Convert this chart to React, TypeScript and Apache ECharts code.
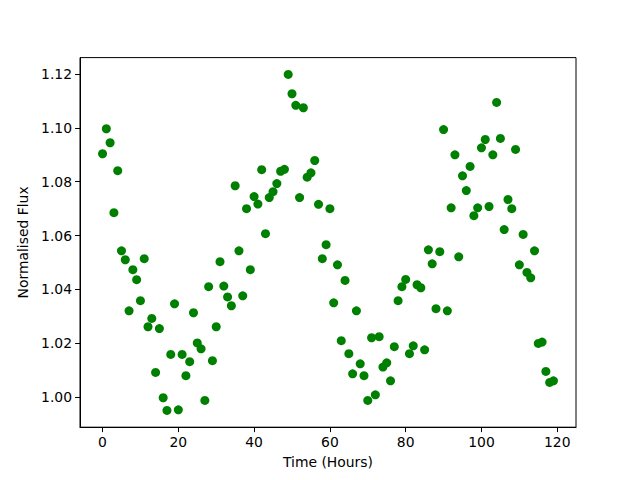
import React, { useEffect, useRef } from "react";
import * as echarts from "echarts";

const hours: number[] = Array.from({ length: 120 }, (_, i) => i);
const flux: number[] = [
  1.0904, 1.0997, 1.0945, 1.0685, 1.0841, 1.0543, 1.0510, 1.0320, 1.0473, 1.0436,
  1.0358, 1.0514, 1.0261, 1.0292, 1.0091, 1.0254, 0.9997, 0.9950, 1.0158, 1.0346,
  0.9952, 1.0158, 1.0079, 1.0131, 1.0313, 1.0201, 1.0179, 0.9987, 1.0410, 1.0135,
  1.0261, 1.0503, 1.0412, 1.0372, 1.0339, 1.0785, 1.0543, 1.0376, 1.0700, 1.0473,
  1.0745, 1.0717, 1.0845, 1.0607, 1.0741, 1.0763, 1.0793, 1.0839, 1.0846, 1.1199,
  1.1127, 1.1084, 1.0741, 1.1075, 1.0817, 1.0833, 1.0879, 1.0716, 1.0514, 1.0566,
  1.0700, 1.0350, 1.0491, 1.0209, 1.0433, 1.0161, 1.0086, 1.0320, 1.0123, 1.0079,
  0.9987, 1.0220, 1.0008, 1.0224, 1.0111, 1.0127, 1.0060, 1.0187, 1.0358, 1.0410,
  1.0437, 1.0161, 1.0190, 1.0417, 1.0406, 1.0175, 1.0547, 1.0495, 1.0328, 1.0540,
  1.0994, 1.0320, 1.0703, 1.0900, 1.0521, 1.0822, 1.0767, 1.0857, 1.0674, 1.0703,
  1.0926, 1.0957, 1.0708, 1.0900, 1.1095, 1.0961, 1.0622, 1.0734, 1.0700, 1.0920,
  1.0491, 1.0604, 1.0463, 1.0443, 1.0543, 1.0199, 1.0204, 1.0095, 1.0054, 1.0060,
];
const xTicks: number[] = [0, 20, 40, 60, 80, 100, 120];
const yTicks: number[] = [1.0, 1.02, 1.04, 1.06, 1.08, 1.1, 1.12];

export default function App() {
  const ref = useRef<HTMLDivElement>(null);
  useEffect(() => {
    document.body.style.margin = "0";
    if (!ref.current) return;
    const chart = echarts.init(ref.current, null, { renderer: "svg" });
    const font = "DejaVu Sans";
    const xMin = -5.95, xMax = 124.95;
    const yLo = Math.min(...flux), yHi = Math.max(...flux);
    const pad = (yHi - yLo) * 0.05;
    chart.setOption({
      animation: false,
      backgroundColor: "#ffffff",
      grid: {
        left: 80, right: 64, top: 57.6, bottom: 52.8,
        show: true, borderColor: "#000", borderWidth: 1, backgroundColor: "transparent",
      },
      xAxis: {
        type: "value",
        min: xMin, max: xMax,
        name: "Time (Hours)",
        nameLocation: "middle",
        nameGap: 28,
        nameTextStyle: { color: "#000", fontSize: 13.9, fontFamily: font },
        axisLine: { show: true, onZero: false, lineStyle: { color: "#000", width: 1 } },
        axisTick: { show: true, inside: false, length: 4.9, customValues: xTicks, lineStyle: { color: "#000", width: 1 } },
        axisLabel: { customValues: xTicks, margin: 8, color: "#000", fontSize: 13.9, fontFamily: font, showMinLabel: true, showMaxLabel: true },
        splitLine: { show: false },
      },
      yAxis: {
        type: "value",
        min: yLo - pad, max: yHi + pad,
        name: "Normalised Flux",
        nameLocation: "middle",
        nameGap: 46,
        nameTextStyle: { color: "#000", fontSize: 13.9, fontFamily: font },
        axisLine: { show: true, onZero: false, lineStyle: { color: "#000", width: 1 } },
        axisTick: { show: true, inside: false, length: 4.9, customValues: yTicks, lineStyle: { color: "#000", width: 1 } },
        axisLabel: {
          customValues: yTicks, margin: 8, color: "#000", fontSize: 13.9, fontFamily: font,
          formatter: (v: number) => v.toFixed(2),
        },
        splitLine: { show: false },
      },
      series: [
        {
          type: "scatter",
          data: hours.map((h, i) => [h, flux[i]]),
          symbol: "circle",
          symbolSize: 9,
          itemStyle: { color: "#008000", opacity: 1 },
        },
      ],
    });
    return () => chart.dispose();
  }, []);
  return <div ref={ref} style={{ width: 640, height: 480 }} />;
}
